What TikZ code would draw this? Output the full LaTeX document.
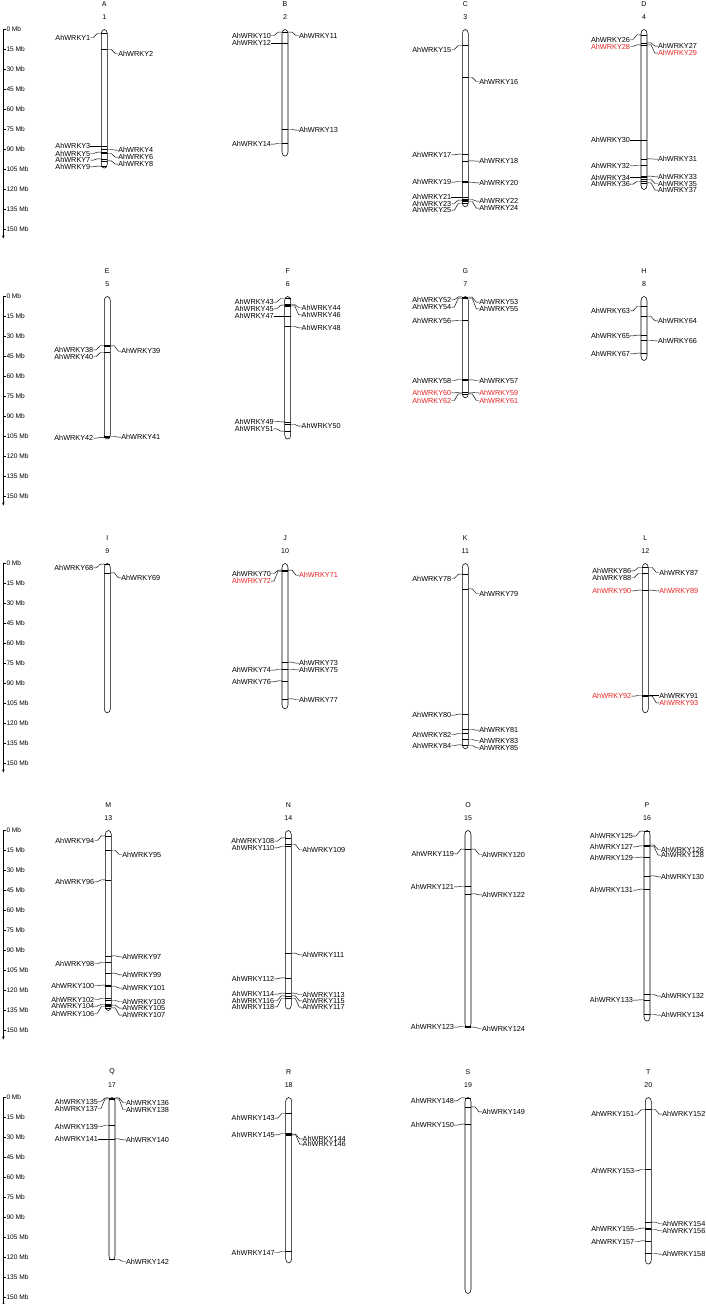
\documentclass[tikz,border=0pt]{standalone}
\usepackage{fontspec}
\setmainfont{Liberation Sans}
\usetikzlibrary{calc,arrows.meta}
\definecolor{hl}{RGB}{235,35,35}
\newcommand\Sc{1.3333}
\tikzset{
 lab/.style={font=\fontsize{7.3}{7.3}\selectfont, inner sep=0pt, outer sep=0pt},
 axlab/.style={font=\fontsize{6.6}{6.6}\selectfont, inner sep=0pt, anchor=west},
 numlab/.style={font=\fontsize{7}{7}\selectfont, inner sep=0pt},
 chrom/.style={line width=0.55pt},
 conn/.style={line width=0.45pt},
}
% left-labelled gene: [colour]{cx}{y0}{mark Mb}{label Mb}{number}
\newcommand\GL[6][black]{%
 \coordinate (m#6) at ({#2-3},{#3+#4*\Sc});
 \coordinate (n#6) at ({#2+3},{#3+#4*\Sc});
 \draw[conn] (m#6) -- (n#6);
 \node[lab,anchor=east,text=#1] (g#6) at ({#2-14},{#3+#5*\Sc}) {AhWRKY#6};
 \draw[conn] (g#6.east) -- ++(3,0) -- ($(m#6)+(-4,0)$) -- (m#6);
}
\newcommand\GR[6][black]{%
 \coordinate (m#6) at ({#2-3},{#3+#4*\Sc});
 \coordinate (n#6) at ({#2+3},{#3+#4*\Sc});
 \draw[conn] (m#6) -- (n#6);
 \node[lab,anchor=west,text=#1] (g#6) at ({#2+14},{#3+#5*\Sc}) {AhWRKY#6};
 \draw[conn] (n#6) -- ++(4,0) -- ($(g#6.west)+(-3,0)$) -- (g#6.west);
}
% chromosome: {num}{letter}{cx}{y0}{length Mb}
\newcommand\Chrom[5]{%
 \draw[chrom] ({#3-3},{#4+4}) arc[start angle=180,end angle=360,x radius=3,y radius=4]
   -- ({#3+3},{#4+#5*\Sc-4}) arc[start angle=0,end angle=180,x radius=3,y radius=4] -- cycle;
 \node[numlab] (c#1) at (#3,{#4-12}) {#1};
 \node[numlab] (l#1) at (#3,{#4-25.5}) {#2};
}
\newcommand\Axis[2]{%
 \draw[conn,-{Stealth[length=3pt,width=2.4pt]}] (3.3,#2) -- (3.3,{#2+209});
 \foreach \i in {0,...,10}{%
   \draw[conn] (3.3,{#2+\i*20}) -- (5.5,{#2+\i*20});
   \node[axlab] (a#1x\i) at (6.3,{#2+\i*20}) {\the\numexpr\i*15\relax\ Mb};
 }
}
\begin{document}
\begin{tikzpicture}[x=1pt,y=-1pt]
\useasboundingbox[fill=white] (0,0) rectangle (706,1304);
% ---------- row 1 ----------
\Axis{1}{29.5}
\Chrom{1}{A}{104.3}{29.5}{104}
\Chrom{2}{B}{285}{29.5}{95}
\Chrom{3}{C}{465.3}{29.5}{133}
\Chrom{4}{D}{644}{29.5}{120}
\GL{104.3}{29.5}{3}{6}{1}
\GR{104.3}{29.5}{15}{18}{2}
\GL{104.3}{29.5}{87.5}{87.5}{3}
\GR{104.3}{29.5}{90}{90.5}{4}
\GL{104.3}{29.5}{92}{93}{5}
\GR{104.3}{29.5}{93}{95.75}{6}
\GL{104.3}{29.5}{97}{98}{7}
\GR{104.3}{29.5}{98.5}{101}{8}
\GL{104.3}{29.5}{102.5}{103}{9}
\GL{285}{29.5}{2}{4.5}{10}
\GR{285}{29.5}{2}{4.5}{11}
\GL{285}{29.5}{10}{10}{12}
\GR{285}{29.5}{75}{75.5}{13}
\GL{285}{29.5}{85.5}{86}{14}
\GL{465.3}{29.5}{12}{15}{15}
\GR{465.3}{29.5}{36}{39}{16}
\GL{465.3}{29.5}{93.5}{94}{17}
\GR{465.3}{29.5}{98.5}{98.75}{18}
\GL{465.3}{29.5}{114}{114.5}{19}
\GR{465.3}{29.5}{114.5}{115}{20}
\GL{465.3}{29.5}{125.5}{125.5}{21}
\GR{465.3}{29.5}{127.5}{128.75}{22}
\GL{465.3}{29.5}{128}{130.5}{23}
\GR{465.3}{29.5}{129}{134}{24}
\GL{465.3}{29.5}{130.5}{135.5}{25}
\GL{644}{29.5}{4}{7.5}{26}
\GR{644}{29.5}{10}{12.5}{27}
\GL[hl]{644}{29.5}{11.5}{12.75}{28}
\GR[hl]{644}{29.5}{11.5}{17.75}{29}
\GL{644}{29.5}{83}{83}{30}
\GR{644}{29.5}{97}{97.25}{31}
\GL{644}{29.5}{102}{102.25}{32}
\GR{644}{29.5}{110}{110.5}{33}
\GL{644}{29.5}{111}{111}{34}
\GR{644}{29.5}{112.5}{115.5}{35}
\GL{644}{29.5}{114}{116}{36}
\GR{644}{29.5}{115}{120.5}{37}
% ---------- row 2 ----------
\Axis{2}{296.5}
\Chrom{5}{E}{107.3}{296.5}{107}
\Chrom{6}{F}{287.7}{296.5}{107}
\Chrom{7}{G}{465.3}{296.5}{76}
\Chrom{8}{H}{644}{296.5}{48}
\GL{107.3}{296.5}{36.75}{40}{38}
\GR{107.3}{296.5}{37}{41}{39}
\GL{107.3}{296.5}{42}{45}{40}
\GR{107.3}{296.5}{105}{105.5}{41}
\GL{107.3}{296.5}{105.7}{106.25}{42}
\GL{287.7}{296.5}{1.5}{4.25}{43}
\GR{287.7}{296.5}{6}{8.25}{44}
\GL{287.7}{296.5}{6.5}{9.25}{45}
\GR{287.7}{296.5}{7}{13.75}{46}
\GL{287.7}{296.5}{14.5}{14.5}{47}
\GR{287.7}{296.5}{22.5}{23.5}{48}
\GL{287.7}{296.5}{94}{93.75}{49}
\GR{287.7}{296.5}{96}{97.25}{50}
\GL{287.7}{296.5}{101}{99.25}{51}
\GL{465.3}{296.5}{0.3}{2.5}{52}
\GR{465.3}{296.5}{0.5}{4.25}{53}
\GL{465.3}{296.5}{1.2}{8}{54}
\GR{465.3}{296.5}{1.5}{9.25}{55}
\GL{465.3}{296.5}{18}{18.25}{56}
\GR{465.3}{296.5}{62.5}{63}{57}
\GL{465.3}{296.5}{62.25}{63}{58}
\GR[hl]{465.3}{296.5}{72}{72.25}{59}
\GL[hl]{465.3}{296.5}{72}{72.25}{60}
\GR[hl]{465.3}{296.5}{73}{78}{61}
\GL[hl]{465.3}{296.5}{73}{78}{62}
\GL{644}{296.5}{7.5}{10.75}{63}
\GR{644}{296.5}{15}{18.25}{64}
\GL{644}{296.5}{29}{29.5}{65}
\GR{644}{296.5}{33}{33.25}{66}
\GL{644}{296.5}{42.5}{43}{67}
% ---------- row 3 ----------
\Axis{3}{563.5}
\Chrom{9}{I}{107.3}{563.5}{112}
\Chrom{10}{J}{285}{563.5}{109}
\Chrom{11}{K}{465.3}{563.5}{139}
\Chrom{12}{L}{645.3}{563.5}{112}
\GL{107.3}{563.5}{0.5}{3.25}{68}
\GR{107.3}{563.5}{7}{10.75}{69}
\GL{285}{563.5}{5}{7.5}{70}
\GR[hl]{285}{563.5}{5}{8.75}{71}
\GL[hl]{285}{563.5}{5.7}{13.25}{72}
\GR{285}{563.5}{74}{74.75}{73}
\GL{285}{563.5}{79.5}{80}{74}
\GR{285}{563.5}{79.5}{79.75}{75}
\GL{285}{563.5}{88}{88.75}{76}
\GR{285}{563.5}{101.5}{102}{77}
\GL{465.3}{563.5}{8}{11.25}{78}
\GR{465.3}{563.5}{19}{22.5}{79}
\GL{465.3}{563.5}{113}{113.75}{80}
\GR{465.3}{563.5}{124.5}{125}{81}
\GL{465.3}{563.5}{127.5}{128.25}{82}
\GR{465.3}{563.5}{132}{132.75}{83}
\GL{465.3}{563.5}{136}{136.5}{84}
\GR{465.3}{563.5}{136.5}{138.25}{85}
\GL{645.3}{563.5}{3}{5.5}{86}
\GR{645.3}{563.5}{3}{6.75}{87}
\GL{645.3}{563.5}{7.5}{10.5}{88}
\GR[hl]{645.3}{563.5}{20}{20.5}{89}
\GL[hl]{645.3}{563.5}{20}{20.5}{90}
\GR{645.3}{563.5}{99}{99}{91}
\GL[hl]{645.3}{563.5}{99}{99.5}{92}
\GR[hl]{645.3}{563.5}{99.5}{104.5}{93}
% ---------- row 4 ----------
\Axis{4}{830.5}
\Chrom{13}{M}{108.3}{830.5}{135}
\Chrom{14}{N}{288.3}{830.5}{134}
\Chrom{15}{O}{468}{830.5}{148}
\Chrom{16}{P}{647}{830.5}{143}
\GL{108.3}{830.5}{4}{7.5}{94}
\GR{108.3}{830.5}{15}{18}{95}
\GL{108.3}{830.5}{37}{38.5}{96}
\GR{108.3}{830.5}{94}{94.75}{97}
\GL{108.3}{830.5}{99}{99.75}{98}
\GR{108.3}{830.5}{107}{108.25}{99}
\GL{108.3}{830.5}{116}{116.25}{100}
\GR{108.3}{830.5}{117}{118.25}{101}
\GL{108.3}{830.5}{126}{126.75}{102}
\GR{108.3}{830.5}{127.5}{128.25}{103}
\GL{108.3}{830.5}{130.5}{131.75}{104}
\GR{108.3}{830.5}{131}{133.25}{105}
\GL{108.3}{830.5}{132}{137.25}{106}
\GR{108.3}{830.5}{133}{138.5}{107}
\GL{288.3}{830.5}{5.5}{8}{108}
\GR{288.3}{830.5}{10.5}{14.25}{109}
\GL{288.3}{830.5}{12}{13}{110}
\GR{288.3}{830.5}{92}{93.25}{111}
\GL{288.3}{830.5}{110.5}{111.25}{112}
\GR{288.3}{830.5}{122}{123}{113}
\GL{288.3}{830.5}{122}{122.75}{114}
\GR{288.3}{830.5}{124}{127.75}{115}
\GL{288.3}{830.5}{124}{127.5}{116}
\GR{288.3}{830.5}{126}{132.5}{117}
\GL{288.3}{830.5}{126}{132.25}{118}
\GL{468}{830.5}{14}{17.5}{119}
\GR{468}{830.5}{14}{18}{120}
\GL{468}{830.5}{42}{42.25}{121}
\GR{468}{830.5}{47.5}{48.25}{122}
\GL{468}{830.5}{147}{147.5}{123}
\GR{468}{830.5}{147.5}{148.5}{124}
\GL{647}{830.5}{0.5}{4.25}{125}
\GR{647}{830.5}{11}{14.25}{126}
\GL{647}{830.5}{11.5}{12.25}{127}
\GR{647}{830.5}{12}{18.5}{128}
\GL{647}{830.5}{20}{20.25}{129}
\GR{647}{830.5}{34}{34.75}{130}
\GL{647}{830.5}{44}{44.75}{131}
\GR{647}{830.5}{123}{124.25}{132}
\GL{647}{830.5}{127}{127.25}{133}
\GR{647}{830.5}{138}{138.5}{134}
% ---------- row 5 ----------
\Axis{5}{1097.5}
\Chrom{17}{Q}{112}{1097.5}{122}
\Chrom{18}{R}{288.7}{1097.5}{124}
\Chrom{19}{S}{468}{1097.5}{147}
\Chrom{20}{T}{648.3}{1097.5}{125}
\GL{112}{1097.5}{0.3}{3}{135}
\GR{112}{1097.5}{0.3}{3.75}{136}
\GL{112}{1097.5}{1}{8.25}{137}
\GR{112}{1097.5}{1}{9}{138}
\GL{112}{1097.5}{21}{21.75}{139}
\GR{112}{1097.5}{31}{31.75}{140}
\GL{112}{1097.5}{31}{31}{141}
\GR{112}{1097.5}{121.5}{123}{142}
\GL{288.7}{1097.5}{12}{15.5}{143}
\GR{288.7}{1097.5}{27.5}{31}{144}
\GL{288.7}{1097.5}{27}{28}{145}
\GR{288.7}{1097.5}{28}{35}{146}
\GL{288.7}{1097.5}{115.5}{116.25}{147}
\GL{468}{1097.5}{0.3}{2.5}{148}
\GR{468}{1097.5}{7}{10.75}{149}
\GL{468}{1097.5}{20}{20.75}{150}
\GL{648.3}{1097.5}{9}{12.5}{151}
\GR{648.3}{1097.5}{9}{12.5}{152}
\GL{648.3}{1097.5}{54}{55}{153}
\GR{648.3}{1097.5}{93.5}{94.5}{154}
\GL{648.3}{1097.5}{98}{98.75}{155}
\GR{648.3}{1097.5}{99}{99.75}{156}
\GL{648.3}{1097.5}{107.5}{108}{157}
\GR{648.3}{1097.5}{117}{117.5}{158}
\end{tikzpicture}
\end{document}
